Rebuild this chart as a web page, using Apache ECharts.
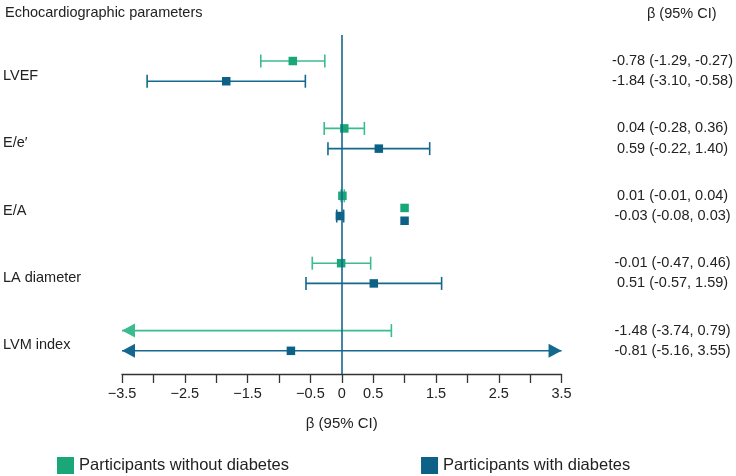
<!DOCTYPE html>
<html>
<head>
<meta charset="utf-8">
<script src="https://cdn.jsdelivr.net/npm/echarts@6/dist/echarts.min.js"></script>
<style>html,body{margin:0;padding:0;background:#fff}#c{width:736px;height:476px}</style>
</head>
<body>
<div id="c"></div>
<script>
// ---- data ----
const rowLabels = ['LVEF', 'E/e\u2032', 'E/A', 'LA diameter', 'LVM index'];
const noDiabEst = [-0.78, 0.04, 0.01, -0.01, -1.48];
const noDiabLo  = [-1.29, -0.28, -0.01, -0.47, -3.74];
const noDiabHi  = [-0.27, 0.36, 0.04, 0.46, 0.79];
const noDiabShowPoint = [1, 1, 1, 1, 0];
const diabEst = [-1.84, 0.59, -0.03, 0.51, -0.81];
const diabLo  = [-3.10, -0.22, -0.08, -0.57, -5.16];
const diabHi  = [-0.58, 1.40, 0.03, 1.59, 3.55];
const diabShowPoint = [1, 1, 1, 1, 1];
const xTickLabels = [-3.5, -2.5, -1.5, -0.5, 0, 0.5, 1.5, 2.5, 3.5];
const strayMarkX = [1.0, 1.0];
const strayMarkRow = [2.18, 2.37];
const seriesNames = ['Participants without diabetes', 'Participants with diabetes'];

// ---- styles ----
const GREEN = '#19a77a', GREEN_LINE = '#3cbb8f';
const BLUE = '#0d6186', BLUE_LINE = '#15688d';
const TEXT = '#222';
const FONT = 'Liberation Sans, Arial, Helvetica, sans-serif';
const XMIN = -3.5, XMAX = 3.5;
const BLUE_OFFSET = 0.3;

function fmtCI(e, l, h) {
  return e.toFixed(2) + ' (' + l.toFixed(2) + ', ' + h.toFixed(2) + ')';
}
const rightMap = {};
const rightVals = [];
rowLabels.forEach((_, i) => {
  rightMap[(i).toFixed(2)] = fmtCI(noDiabEst[i], noDiabLo[i], noDiabHi[i]);
  rightMap[(i + BLUE_OFFSET).toFixed(2)] = fmtCI(diabEst[i], diabLo[i], diabHi[i]);
  rightVals.push(i, i + BLUE_OFFSET);
});
const leftMap = {};
const leftVals = [];
rowLabels.forEach((n, i) => { leftMap[(i + 0.22).toFixed(2)] = n; leftVals.push(i + 0.22); });

function makeData(est, lo, hi, show, off) {
  return est.map((e, i) => [lo[i], hi[i], i + off, e, show[i]]);
}

function renderCI(lineColor, pointColor) {
  return function (params, api) {
    const lo = api.value(0), hi = api.value(1), y = api.value(2), est = api.value(3), show = api.value(4);
    const p1 = api.coord([Math.max(lo, XMIN), y]);
    const p2 = api.coord([Math.min(hi, XMAX), y]);
    const pe = api.coord([est, y]);
    const children = [];
    children.push({ type: 'line', shape: { x1: p1[0], y1: p1[1], x2: p2[0], y2: p2[1] },
      style: { stroke: lineColor, lineWidth: 1.6 } });
    const cap = 6.5, aw = 13, ah = 7;
    if (lo < XMIN) {
      children.push({ type: 'polygon', shape: { points: [[p1[0], p1[1]], [p1[0] + aw, p1[1] - ah], [p1[0] + aw, p1[1] + ah]] },
        style: { fill: lineColor } });
    } else {
      children.push({ type: 'line', shape: { x1: p1[0], y1: p1[1] - cap, x2: p1[0], y2: p1[1] + cap },
        style: { stroke: lineColor, lineWidth: 1.6 } });
    }
    if (hi > XMAX) {
      children.push({ type: 'polygon', shape: { points: [[p2[0], p2[1]], [p2[0] - aw, p2[1] - ah], [p2[0] - aw, p2[1] + ah]] },
        style: { fill: lineColor } });
    } else {
      children.push({ type: 'line', shape: { x1: p2[0], y1: p2[1] - cap, x2: p2[0], y2: p2[1] + cap },
        style: { stroke: lineColor, lineWidth: 1.6 } });
    }
    if (show) {
      const s = 8.5;
      children.push({ type: 'rect', shape: { x: pe[0] - s / 2, y: pe[1] - s / 2, width: s, height: s },
        style: { fill: pointColor } });
    }
    return { type: 'group', children: children };
  };
}

const chart = echarts.init(document.getElementById('c'), null, { renderer: 'canvas' });
const option = {
  animation: false,
  textStyle: { fontFamily: FONT },
  title: [
    { text: 'Echocardiographic parameters', left: 0, top: 0,
      textStyle: { fontSize: 14.5, fontWeight: 'normal', color: TEXT, fontFamily: FONT } },
    { text: '\u03b2 (95% CI)', left: 642, top: 1,
      textStyle: { fontSize: 14.5, fontWeight: 'normal', color: TEXT, fontFamily: FONT } }
  ],
  legend: {
    left: 52, top: 452, itemWidth: 17, itemHeight: 17, itemGap: 132,
    textStyle: { fontSize: 16.5, color: TEXT, fontFamily: FONT },
    data: [
      { name: seriesNames[0], icon: 'rect', itemStyle: { color: GREEN } },
      { name: seriesNames[1], icon: 'rect', itemStyle: { color: BLUE } }
    ]
  },
  grid: { left: 119, right: 173, top: 35, bottom: 102 },
  xAxis: {
    type: 'value', min: XMIN, max: XMAX, interval: 0.5,
    axisLine: { show: true, onZero: false, lineStyle: { color: '#333', width: 1.3 } },
    axisTick: { show: true, length: 9, lineStyle: { color: '#333', width: 1.3 } },
    splitLine: { show: false },
    axisLabel: {
      customValues: xTickLabels, margin: 12, fontSize: 14.5, color: TEXT, fontFamily: FONT,
      formatter: v => (v < 0 ? '\u2212' + Math.abs(v) : String(v))
    },
    name: '\u03b2 (95% CI)', nameLocation: 'middle', nameGap: 42,
    nameTextStyle: { fontSize: 15, color: TEXT, fontFamily: FONT }
  },
  yAxis: [
    {
      type: 'value', inverse: true, min: -0.386, max: 4.644, position: 'left',
      axisLine: { show: false }, axisTick: { show: false }, splitLine: { show: false },
      axisLabel: { customValues: leftVals, align: 'left', margin: 119, fontSize: 14.5, color: TEXT, fontFamily: FONT,
        formatter: v => leftMap[v.toFixed(2)] || '' }
    },
    {
      type: 'value', inverse: true, min: -0.386, max: 4.644, position: 'right',
      axisLine: { show: false }, axisTick: { show: false }, splitLine: { show: false },
      axisLabel: { customValues: rightVals, align: 'center', margin: 111, fontSize: 14.5, color: TEXT, fontFamily: FONT,
        formatter: v => rightMap[v.toFixed(2)] || '' }
    }
  ],
  series: [
    {
      name: seriesNames[0], type: 'custom', clip: false,
      itemStyle: { color: GREEN },
      renderItem: renderCI(GREEN_LINE, GREEN),
      encode: { x: [0, 1, 3], y: 2 },
      data: makeData(noDiabEst, noDiabLo, noDiabHi, noDiabShowPoint, 0),
      markLine: {
        silent: true, symbol: 'none', label: { show: false },
        lineStyle: { color: BLUE_LINE, width: 1.6, type: 'solid' },
        data: [{ xAxis: 0 }]
      },
      z: 3
    },
    {
      name: seriesNames[1], type: 'custom', clip: false,
      itemStyle: { color: BLUE },
      renderItem: renderCI(BLUE_LINE, BLUE),
      encode: { x: [0, 1, 3], y: 2 },
      data: makeData(diabEst, diabLo, diabHi, diabShowPoint, BLUE_OFFSET),
      z: 4
    },
    {
      type: 'scatter', symbol: 'rect', symbolSize: 8.5,
      data: strayMarkX.map((x, i) => ({ value: [x, strayMarkRow[i]], itemStyle: { color: i === 0 ? GREEN : BLUE, opacity: 1 } })),
      z: 5
    }
  ]
};
chart.setOption(option);
</script>
</body>
</html>
